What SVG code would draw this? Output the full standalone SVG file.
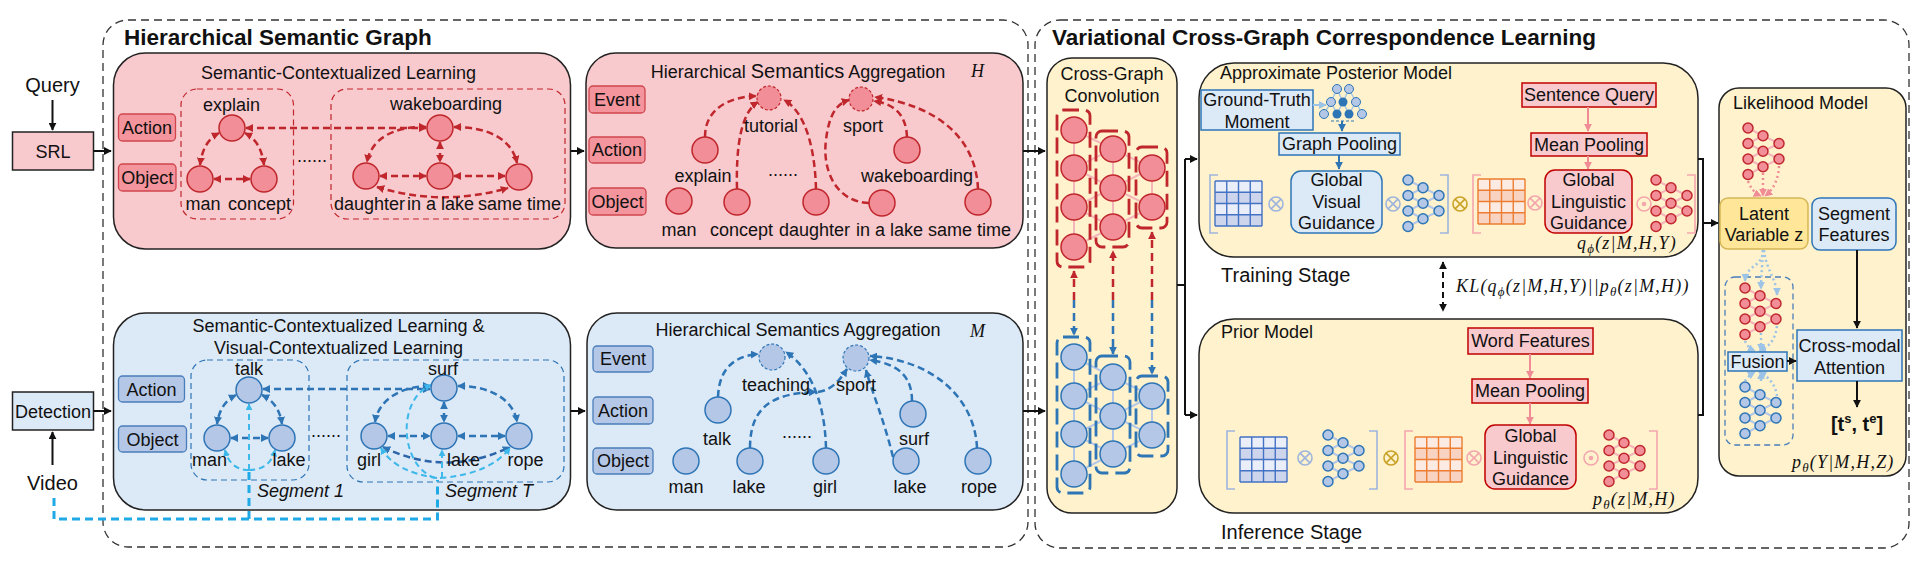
<svg xmlns="http://www.w3.org/2000/svg" xmlns:xlink="http://www.w3.org/1999/xlink" width="1926" height="561" viewBox="0 0 1926 561">
<style>
text{font-family:"Liberation Sans",Arial,sans-serif;fill:#111;font-size:18px}
.c{text-anchor:middle}
.s20{font-size:20px}
.b{font-weight:bold}
.ttl{font-weight:bold;font-size:22.5px}
.mt{font-family:"Liberation Serif","Times New Roman",serif;font-style:italic;letter-spacing:1.2px}
.outer{fill:none;stroke:#333;stroke-width:1.3;stroke-dasharray:8 5}
.pp{fill:#F8C9CD;stroke:#222;stroke-width:1.5}
.bp{fill:#DCE9F7;stroke:#222;stroke-width:1.5}
.yp{fill:#FFF2CC;stroke:#222;stroke-width:1.5}
.pl{fill:#F4949C;stroke:#D0464E;stroke-width:1.3}
.bl{fill:#B4C7E7;stroke:#4A7EBB;stroke-width:1.3}
.rn{fill:#F28E97;stroke:#C0272D;stroke-width:1.5}
.bn{fill:#B4C7E7;stroke:#2E75B6;stroke-width:1.5}
.evr{fill:#F28E97;stroke:#C0272D;stroke-width:1.2;stroke-dasharray:3 2}
.evb{fill:#B4C7E7;stroke:#2E75B6;stroke-width:1.2;stroke-dasharray:3 2}
.re{fill:none;stroke:#C0272D;stroke-width:2.5;stroke-dasharray:8 5}
.be{fill:none;stroke:#2E75B6;stroke-width:2.5;stroke-dasharray:8 5}
.rg{fill:none;stroke:#C0272D;stroke-width:1.2;stroke-dasharray:6 4}
.bg{fill:none;stroke:#2E75B6;stroke-width:1.2;stroke-dasharray:6 4}
.kc{fill:none;stroke:#111;stroke-width:2}
.cy{fill:none;stroke:#1FAAE5;stroke-width:3;stroke-dasharray:8 5}
.cl{fill:none;stroke:#3DB8EA;stroke-width:2;stroke-dasharray:6 4}
.lbx{fill:#DCE9F7;stroke:#2E75B6;stroke-width:1.5}
.pbx{fill:#F8C9CD;stroke:#C00000;stroke-width:1.5}
.rbr{fill:none;stroke:#C0272D;stroke-width:2.8;stroke-dasharray:16 7}
.bbr{fill:none;stroke:#2E75B6;stroke-width:2.8;stroke-dasharray:16 7}
.rl{fill:none;stroke:#F4B6BB;stroke-width:2}
.bll{fill:none;stroke:#B4C7E7;stroke-width:2}
.brB{fill:none;stroke:#9DB5DD;stroke-width:1.6}
.brP{fill:none;stroke:#F4A6AE;stroke-width:1.6}
.dotP{fill:none;stroke:#F08C96;stroke-width:2.5;stroke-dasharray:2 3}
.dotB{fill:none;stroke:#9DC3E6;stroke-width:2.5;stroke-dasharray:2 3}
</style>
<defs>
<marker id="aK" viewBox="0 0 10 10" refX="9" refY="5" markerWidth="8" markerHeight="8" markerUnits="userSpaceOnUse" orient="auto-start-reverse"><path d="M0,0L10,5L0,10z" fill="#111"/></marker>
<marker id="aR" viewBox="0 0 10 10" refX="9" refY="5" markerWidth="8" markerHeight="8" markerUnits="userSpaceOnUse" orient="auto-start-reverse"><path d="M0,0L10,5L0,10z" fill="#C0272D"/></marker>
<marker id="aB" viewBox="0 0 10 10" refX="9" refY="5" markerWidth="8" markerHeight="8" markerUnits="userSpaceOnUse" orient="auto-start-reverse"><path d="M0,0L10,5L0,10z" fill="#2E75B6"/></marker>
<marker id="aC" viewBox="0 0 10 10" refX="9" refY="5" markerWidth="7" markerHeight="7" markerUnits="userSpaceOnUse" orient="auto-start-reverse"><path d="M0,0L10,5L0,10z" fill="#3DB8EA"/></marker>
<marker id="aP" viewBox="0 0 10 10" refX="9" refY="5" markerWidth="8" markerHeight="8" markerUnits="userSpaceOnUse" orient="auto-start-reverse"><path d="M0,0L10,5L0,10z" fill="#F08C96"/></marker>
<marker id="aL" viewBox="0 0 10 10" refX="9" refY="5" markerWidth="8" markerHeight="8" markerUnits="userSpaceOnUse" orient="auto-start-reverse"><path d="M0,0L10,5L0,10z" fill="#9DC3E6"/></marker>
<g id="netR">
<path class="rl" d="M0,0L15,7.75M0,15.5L15,7.75M0,15.5L15,23.25M0,31L15,23.25M0,31L15,38.75M0,46.5L15,38.75M15,7.75L31,15.5M15,23.25L31,15.5M15,23.25L31,31M15,38.75L31,31"/>
<g class="rn"><circle cx="0" cy="0" r="5"/><circle cx="0" cy="15.5" r="5"/><circle cx="0" cy="31" r="5"/><circle cx="0" cy="46.5" r="5"/><circle cx="15" cy="7.75" r="5"/><circle cx="15" cy="23.25" r="5"/><circle cx="15" cy="38.75" r="5"/><circle cx="31" cy="15.5" r="5"/><circle cx="31" cy="31" r="5"/></g>
</g>
<g id="netB">
<path class="bll" d="M0,0L15,7.75M0,15.5L15,7.75M0,15.5L15,23.25M0,31L15,23.25M0,31L15,38.75M0,46.5L15,38.75M15,7.75L31,15.5M15,23.25L31,15.5M15,23.25L31,31M15,38.75L31,31"/>
<g class="bn"><circle cx="0" cy="0" r="5"/><circle cx="0" cy="15.5" r="5"/><circle cx="0" cy="31" r="5"/><circle cx="0" cy="46.5" r="5"/><circle cx="15" cy="7.75" r="5"/><circle cx="15" cy="23.25" r="5"/><circle cx="15" cy="38.75" r="5"/><circle cx="31" cy="15.5" r="5"/><circle cx="31" cy="31" r="5"/></g>
</g>
<g id="gridB">
<rect x="0" y="0" width="47" height="11.25" fill="#E9EEF8"/><rect x="0" y="11.25" width="47" height="11.25" fill="#CDD5EC"/><rect x="0" y="22.5" width="47" height="11.25" fill="#E9EEF8"/><rect x="0" y="33.75" width="47" height="11.25" fill="#CDD5EC"/>
<path d="M0,0H47M0,11.25H47M0,22.5H47M0,33.75H47M0,45H47M0,0V45M11.75,0V45M23.5,0V45M35.25,0V45M47,0V45" stroke="#4472C4" stroke-width="1.4" fill="none"/>
</g>
<g id="gridO">
<rect x="0" y="0" width="47" height="11.25" fill="#FCEBE3"/><rect x="0" y="11.25" width="47" height="11.25" fill="#F8D3C2"/><rect x="0" y="22.5" width="47" height="11.25" fill="#FCEBE3"/><rect x="0" y="33.75" width="47" height="11.25" fill="#F8D3C2"/>
<path d="M0,0H47M0,11.25H47M0,22.5H47M0,33.75H47M0,45H47M0,0V45M11.75,0V45M23.5,0V45M35.25,0V45M47,0V45" stroke="#ED7D31" stroke-width="1.4" fill="none"/>
</g>
<g id="otimes" fill="none" stroke-width="1.6"><circle r="7"/><path d="M-4.9,-4.9L4.9,4.9M4.9,-4.9L-4.9,4.9"/></g>
<g id="odot" fill="none" stroke-width="1.6"><circle r="7"/><circle r="1.5" fill="#F4A6AE"/></g>
</defs>

<rect width="1926" height="561" fill="#fff"/>

<!-- outer dashed frames -->
<g id="frame-hsg">
<rect class="outer" x="103" y="20" width="925" height="527" rx="25"/>
<text class="ttl" x="124" y="45">Hierarchical Semantic Graph</text>
</g>
<g id="frame-vcgcl">
<rect class="outer" x="1035" y="20" width="874" height="528" rx="25"/>
<text class="ttl" x="1052" y="45">Variational Cross-Graph Correspondence Learning</text>
</g>

<!-- inputs -->
<g id="query"><text class="c s20" x="52.5" y="92">Query</text></g>
<g id="srl"><rect x="12.5" y="132" width="81" height="38" fill="#F8C9CD" stroke="#222" stroke-width="1.5"/><text class="c" x="53" y="158" font-size="17">SRL</text></g>
<g id="detection"><rect x="12.5" y="392" width="81" height="38" fill="#DCE9F7" stroke="#222" stroke-width="1.5"/><text class="c" x="53" y="418">Detection</text></g>
<g id="video"><text class="c s20" x="52.5" y="490">Video</text></g>

<!-- Pink semantic-contextualized learning -->
<g id="scl-query">
<rect class="pp" x="113.5" y="53" width="457" height="196" rx="32"/>
<text class="c" x="338.5" y="79">Semantic-Contextualized Learning</text>
<rect class="pl" x="118.5" y="114" width="57" height="27" rx="4"/><text class="c" x="147" y="134">Action</text>
<rect class="pl" x="118.5" y="164" width="57.5" height="27" rx="4"/><text class="c" x="147.2" y="184">Object</text>
<rect class="rg" x="181" y="89" width="112.5" height="130" rx="16"/>
<rect class="rg" x="331" y="89" width="234" height="130" rx="16"/>
<g fill="none" stroke="#C0272D" stroke-width="2.5" stroke-dasharray="7 4">
<path d="M246 128H426" marker-start="url(#aR)" marker-end="url(#aR)"/>
<path d="M219 133Q203 141 200 165" marker-start="url(#aR)" marker-end="url(#aR)"/>
<path d="M245 133Q261 141 264 165" marker-start="url(#aR)" marker-end="url(#aR)"/>
<path d="M214 179H250" marker-start="url(#aR)" marker-end="url(#aR)"/>
<path d="M426 127C392 126 371 140 367 162" marker-start="url(#aR)" marker-end="url(#aR)"/>
<path d="M454 127C490 127 512 140 517 163" marker-start="url(#aR)" marker-end="url(#aR)"/>
<path d="M440 142V162" marker-start="url(#aR)" marker-end="url(#aR)"/>
<path d="M380 176H426" marker-start="url(#aR)" marker-end="url(#aR)"/>
<path d="M454 176H505" marker-start="url(#aR)" marker-end="url(#aR)"/>
<path d="M377 187Q442 207 508 188" marker-start="url(#aR)" marker-end="url(#aR)"/>
</g>
<g class="rn"><circle cx="232" cy="128" r="13"/><circle cx="200" cy="179" r="13"/><circle cx="264" cy="179" r="13"/><circle cx="440" cy="128" r="13"/><circle cx="366" cy="176" r="13"/><circle cx="440" cy="176" r="13"/><circle cx="519" cy="177" r="13"/></g>
<text class="c" x="231.5" y="111">explain</text><text class="c" x="446" y="110">wakeboarding</text><text class="c" x="203" y="210">man</text><text class="c" x="259.5" y="210">concept</text><text x="334" y="210">daughter</text><text x="407" y="210">in a lake</text><text x="478" y="210">same time</text><text class="c" x="312" y="162">......</text>
</g>

<!-- Pink hierarchical semantics aggregation H -->
<g id="hsa-query">
<rect class="pp" x="586" y="53" width="437" height="195" rx="30"/>
<text class="c" x="798" y="78">Hierarchical <tspan font-size="20">Semantics</tspan> Aggregation</text>
<text class="mt" x="971" y="77">H</text>
<rect class="pl" x="589" y="86" width="56" height="27" rx="4"/><text class="c" x="617" y="106">Event</text>
<rect class="pl" x="589" y="137" width="56" height="26" rx="4"/><text class="c" x="617" y="156">Action</text>
<rect class="pl" x="589" y="188" width="57" height="27" rx="4"/><text class="c" x="617.5" y="208">Object</text>
<g fill="none" stroke="#C0272D" stroke-width="2.5" stroke-dasharray="7 4" marker-end="url(#aR)">
<path d="M705 137C705 108 730 97 756 96"/>
<path d="M737 189C736 150 740 113 758 102"/>
<path d="M816 189C815 150 806 112 784 100"/>
<path d="M869 203C836 202 822 170 826 140C829 115 836 104 849 100"/>
<path d="M907 137C906 114 894 104 874 101"/>
<path d="M978 189C976 140 940 106 875 97"/>
</g>
<circle class="evr" cx="769" cy="98" r="12"/><circle class="evr" cx="861" cy="99" r="12"/>
<g class="rn"><circle cx="705" cy="150" r="13"/><circle cx="907" cy="150" r="13"/><circle cx="679" cy="201" r="13"/><circle cx="737" cy="202" r="13"/><circle cx="816" cy="202" r="13"/><circle cx="882" cy="203" r="13"/><circle cx="978" cy="202" r="13"/></g>
<text class="c" x="771" y="132">tutorial</text><text class="c" x="863" y="132">sport</text>
<text class="c" x="703" y="182">explain</text><text class="c" x="917" y="182">wakeboarding</text>
<text class="c" x="783" y="176">......</text>
<text class="c" x="679" y="236">man</text><text x="710" y="236">concept</text><text x="779" y="236">daughter</text><text x="856" y="236">in a lake</text><text x="928" y="236">same time</text>
</g>

<!-- Blue semantic & visual contextualized learning -->
<g id="scl-video">
<rect class="bp" x="113.5" y="313" width="457" height="197" rx="32"/>
<text class="c" x="338.5" y="332">Semantic-Contextualized Learning &amp;</text>
<text class="c" x="338.5" y="354">Visual-Contextualized Learning</text>
<rect class="bl" x="118.5" y="376" width="66" height="26" rx="4"/><text class="c" x="151.5" y="395.5">Action</text>
<rect class="bl" x="118.5" y="426" width="68" height="26" rx="4"/><text class="c" x="152.5" y="445.5">Object</text>
<rect class="bg" x="191" y="360" width="118" height="120" rx="16"/>
<rect class="bg" x="347" y="360" width="217" height="122" rx="16"/>
<g fill="none" stroke="#2E75B6" stroke-width="2.5" stroke-dasharray="7 4">
<path d="M263 389H430" marker-start="url(#aB)" marker-end="url(#aB)"/>
<path d="M236 395Q220 403 217 424" marker-start="url(#aB)" marker-end="url(#aB)"/>
<path d="M262 395Q279 403 282 424" marker-start="url(#aB)" marker-end="url(#aB)"/>
<path d="M231 438H268" marker-start="url(#aB)" marker-end="url(#aB)"/>
<path d="M430 386C398 386 378 402 375 422" marker-start="url(#aB)" marker-end="url(#aB)"/>
<path d="M458 386C494 386 514 402 517 422" marker-start="url(#aB)" marker-end="url(#aB)"/>
<path d="M444 402V422" marker-start="url(#aB)" marker-end="url(#aB)"/>
<path d="M388 436H430" marker-start="url(#aB)" marker-end="url(#aB)"/>
<path d="M458 436H505" marker-start="url(#aB)" marker-end="url(#aB)"/>
<path d="M383 447Q446 478 510 447" stroke="#2B64A8" marker-start="url(#aB)" marker-end="url(#aB)"/>
</g>
<g class="cl">
<path d="M249 470V404" marker-end="url(#aC)"/>
<path d="M249 470Q230 470 225 450" marker-end="url(#aC)"/>
<path d="M249 470Q270 470 275 450" marker-end="url(#aC)"/>
<path d="M437 478Q395 472 381 448" marker-end="url(#aC)"/>
<path d="M442 478V450" marker-end="url(#aC)"/>
<path d="M440 478Q490 474 510 448" marker-end="url(#aC)"/>
<path d="M435 478C400 466 396 400 431 385" marker-end="url(#aC)"/>
</g>
<g class="bn"><circle cx="249" cy="390" r="13"/><circle cx="217" cy="438" r="13"/><circle cx="282" cy="438" r="13"/><circle cx="444" cy="388" r="13"/><circle cx="374" cy="436" r="13"/><circle cx="444" cy="436" r="13"/><circle cx="519" cy="436" r="13"/></g>
<text class="c" x="249" y="375">talk</text><text class="c" x="209.5" y="466">man</text><text class="c" x="289" y="466">lake</text><text class="c" x="443" y="375">surf</text><text class="c" x="369" y="466">girl</text><text class="c" x="463.5" y="466">lake</text><text class="c" x="525.5" y="466">rope</text><text class="c" x="326" y="437">......</text>
<text x="257" y="497" font-style="italic">Segment 1</text><text x="445" y="497" font-style="italic">Segment T</text>
</g>

<!-- Blue hierarchical semantics aggregation M -->
<g id="hsa-video">
<rect class="bp" x="587" y="313" width="436" height="197" rx="30"/>
<text class="c" x="798" y="336">Hierarchical Semantics Aggregation</text>
<text class="mt" x="970" y="337">M</text>
<rect class="bl" x="593" y="346" width="60" height="26" rx="4"/><text class="c" x="623" y="365">Event</text>
<rect class="bl" x="593" y="397" width="60" height="27" rx="4"/><text class="c" x="623" y="417">Action</text>
<rect class="bl" x="593" y="448" width="60" height="26" rx="4"/><text class="c" x="623" y="467">Object</text>
<g fill="none" stroke="#2E75B6" stroke-width="2.5" stroke-dasharray="7 4" marker-end="url(#aB)">
<path d="M718 397C719 368 735 356 758 354"/>
<path d="M826 448C825 410 815 372 786 352"/>
<path d="M750 448C750 405 775 393 816 392"/>
<path d="M818 392C832 390 840 380 847 369"/>
<path d="M893 457C884 420 872 392 866 370"/>
<path d="M912 401C912 378 900 364 870 360"/>
<path d="M977 448C975 400 935 360 870 356"/>
</g>
<circle class="evb" cx="772" cy="357" r="13"/><circle class="evb" cx="856" cy="358" r="13"/>
<g class="bn"><circle cx="718" cy="410" r="13"/><circle cx="913" cy="414" r="13"/><circle cx="686" cy="461" r="13"/><circle cx="750" cy="461" r="13"/><circle cx="826" cy="461" r="13"/><circle cx="906" cy="461" r="13"/><circle cx="978" cy="461" r="13"/></g>
<text class="c" x="776" y="391">teaching</text><text class="c" x="856" y="391">sport</text>
<text class="c" x="717" y="445">talk</text><text class="c" x="914" y="445">surf</text>
<text class="c" x="797" y="438">......</text>
<text class="c" x="686" y="493">man</text><text class="c" x="749" y="493">lake</text><text class="c" x="825" y="493">girl</text><text class="c" x="910" y="493">lake</text><text class="c" x="979" y="493">rope</text>
</g>

<!-- Cross-Graph Convolution -->
<g id="cross-graph-conv">
<rect class="yp" x="1047" y="58" width="130" height="455" rx="25"/>
<text class="c" x="1112" y="80">Cross-Graph</text>
<text class="c" x="1112" y="102">Convolution</text>
<path class="rl" d="M1074 130V247M1113 149V227M1152 168V207M1074 130L1113 149L1074 168L1113 188L1074 207L1113 227L1074 247M1113 149L1152 168L1113 188L1152 207L1113 227"/>
<g class="rn"><circle cx="1074" cy="130" r="13"/><circle cx="1074" cy="168" r="13"/><circle cx="1074" cy="207" r="13"/><circle cx="1074" cy="247" r="13"/><circle cx="1113" cy="149" r="13"/><circle cx="1113" cy="188" r="13"/><circle cx="1113" cy="227" r="13"/><circle cx="1152" cy="168" r="13"/><circle cx="1152" cy="207" r="13"/></g>
<rect class="rbr" x="1057" y="110" width="33" height="157" rx="6"/>
<rect class="rbr" x="1096" y="131" width="33" height="116" rx="6"/>
<rect class="rbr" x="1136" y="147" width="31" height="81" rx="6"/>
<path class="bll" d="M1074 357V474M1113 377V454M1152 396V435M1074 357L1113 377L1074 396L1113 416L1074 434L1113 454L1074 474M1113 377L1152 396L1113 416L1152 435L1113 454"/>
<g class="bn"><circle cx="1074" cy="357" r="13"/><circle cx="1074" cy="396" r="13"/><circle cx="1074" cy="434" r="13"/><circle cx="1074" cy="474" r="13"/><circle cx="1113" cy="377" r="13"/><circle cx="1113" cy="416" r="13"/><circle cx="1113" cy="454" r="13"/><circle cx="1152" cy="396" r="13"/><circle cx="1152" cy="435" r="13"/></g>
<rect class="bbr" x="1057" y="337" width="33" height="156" rx="6"/>
<rect class="bbr" x="1096" y="356" width="34" height="117" rx="6"/>
<rect class="bbr" x="1136" y="376" width="32" height="80" rx="6"/>
<g class="re" stroke-width="2.2" marker-end="url(#aR)"><path d="M1074 300V271"/><path d="M1113 300V251"/><path d="M1152 300V232"/></g>
<g class="be" stroke-width="2.2" marker-end="url(#aB)"><path d="M1074 300V335"/><path d="M1113 300V354"/><path d="M1152 300V374"/></g>
</g>

<!-- Approximate Posterior Model -->
<g id="posterior-model">
<rect class="yp" x="1199" y="63" width="499" height="194" rx="35"/>
<text x="1220" y="79">Approximate Posterior Model</text>
<rect class="lbx" x="1201" y="90" width="112" height="40"/>
<text class="c" x="1257" y="106">Ground-Truth</text><text class="c" x="1257" y="128">Moment</text>
<path d="M1313 105H1326" stroke="#9DC3E6" stroke-width="2" marker-end="url(#aL)"/>
<path d="M1337 89L1331 102M1337 89L1343 102M1349 89L1343 102M1349 89L1356 102M1331 102L1324 114M1331 102L1337 114M1343 102L1337 114M1343 102L1349 114M1356 102L1349 114M1356 102L1362 114" stroke="#9DC3E6" stroke-width="1.3"/>
<g fill="#B4C7E7" stroke="#2E75B6" stroke-width="1"><circle cx="1337" cy="89" r="4.5"/><circle cx="1349" cy="89" r="4.5"/><circle cx="1331" cy="102" r="4.5"/><circle cx="1356" cy="102" r="4.5"/><circle cx="1324" cy="114" r="4.5"/><circle cx="1362" cy="114" r="4.5"/></g>
<g fill="#2E75B6"><circle cx="1343" cy="102" r="4.5"/><circle cx="1337" cy="114" r="4.5"/><circle cx="1349" cy="114" r="4.5"/></g>
<path d="M1331 121H1354" stroke="#2E75B6" stroke-width="1.2" stroke-dasharray="3 2"/>
<path d="M1342 121V131" stroke="#2E75B6" stroke-width="2" marker-end="url(#aB)"/>
<rect class="lbx" x="1279" y="133" width="121" height="22"/>
<text class="c" x="1339.5" y="150">Graph Pooling</text>
<path d="M1339 155V169" stroke="#2E75B6" stroke-width="2" marker-end="url(#aB)"/>
<path class="brB" d="M1218 175H1210V233H1218"/>
<use href="#gridB" x="1215" y="181"/>
<use href="#otimes" x="1276" y="204" stroke="#9DB5DD"/>
<rect class="lbx" x="1291" y="171" width="91" height="62" rx="10"/>
<text class="c" x="1336.5" y="186">Global</text><text class="c" x="1336.5" y="208">Visual</text><text class="c" x="1336.5" y="229">Guidance</text>
<use href="#otimes" x="1393" y="204" stroke="#9DB5DD"/>
<use href="#netB" x="1408" y="180"/>
<path class="brB" d="M1440 175H1448V233H1440"/>
<use href="#otimes" x="1460" y="204" stroke="#C9A227"/>
<path class="brP" d="M1481 175H1473V233H1481"/>
<use href="#gridO" x="1478" y="179"/>
<use href="#otimes" x="1535" y="203" stroke="#F4A6AE"/>
<rect class="pbx" x="1522" y="83" width="134" height="24"/>
<text class="c" x="1589" y="101">Sentence Query</text>
<path d="M1588 107V131" stroke="#F08C96" stroke-width="2" marker-end="url(#aP)"/>
<rect class="pbx" x="1531" y="133" width="116" height="23"/>
<text class="c" x="1589" y="151">Mean Pooling</text>
<path d="M1588 156V169" stroke="#F08C96" stroke-width="2" marker-end="url(#aP)"/>
<rect class="pbx" x="1545" y="170" width="87" height="63" rx="10"/>
<text class="c" x="1588.5" y="186">Global</text><text class="c" x="1588.5" y="208">Linguistic</text><text class="c" x="1588.5" y="229">Guidance</text>
<use href="#odot" x="1644" y="204" stroke="#F4A6AE"/>
<use href="#netR" x="1656" y="180"/>
<path class="brP" d="M1687 175H1695V233H1687"/>
<text class="mt" x="1577" y="249">q<tspan dy="4" font-size="13">ϕ</tspan><tspan dy="-4">(z|M,H,Y)</tspan></text>
<text class="s20" x="1221" y="282">Training Stage</text>
</g>

<!-- Prior Model -->
<g id="prior-model">
<rect class="yp" x="1199" y="319" width="499" height="194" rx="35"/>
<text x="1221" y="338">Prior Model</text>
<rect class="pbx" x="1468" y="328" width="125" height="26"/>
<text class="c" x="1530.5" y="347">Word Features</text>
<path d="M1530 354V378" stroke="#F08C96" stroke-width="2" marker-end="url(#aP)"/>
<rect class="pbx" x="1472" y="379" width="116" height="24"/>
<text class="c" x="1530" y="397">Mean Pooling</text>
<path d="M1530 403V424" stroke="#F08C96" stroke-width="2" marker-end="url(#aP)"/>
<path class="brB" d="M1235 431H1227V489H1235"/>
<use href="#gridB" x="1240" y="437"/>
<use href="#otimes" x="1305" y="458" stroke="#9DB5DD"/>
<use href="#netB" x="1328" y="435"/>
<path class="brB" d="M1369 431H1377V489H1369"/>
<use href="#otimes" x="1391" y="458" stroke="#C9A227"/>
<path class="brP" d="M1413 431H1405V489H1413"/>
<use href="#gridO" x="1415" y="437"/>
<use href="#otimes" x="1474" y="458" stroke="#F4A6AE"/>
<rect class="pbx" x="1485" y="425" width="91" height="64" rx="10"/>
<text class="c" x="1530.5" y="442">Global</text><text class="c" x="1530.5" y="464">Linguistic</text><text class="c" x="1530.5" y="485">Guidance</text>
<use href="#odot" x="1591" y="458" stroke="#F4A6AE"/>
<use href="#netR" x="1609" y="435"/>
<path class="brP" d="M1649 431H1657V489H1649"/>
<text class="mt" x="1593" y="505">p<tspan dy="4" font-size="13">θ</tspan><tspan dy="-4">(z|M,H)</tspan></text>
<text class="s20" x="1221" y="539">Inference Stage</text>
</g>

<!-- KL divergence -->
<g id="kl">
<path d="M1443 262V311" stroke="#111" stroke-width="2" stroke-dasharray="6 4" marker-start="url(#aK)" marker-end="url(#aK)"/>
<text class="mt" x="1456" y="292">KL(q<tspan dy="4" font-size="13">ϕ</tspan><tspan dy="-4">(z|M,H,Y)||p</tspan><tspan dy="4" font-size="13">θ</tspan><tspan dy="-4">(z|M,H))</tspan></text>
</g>

<!-- Likelihood Model -->
<g id="likelihood-model">
<rect class="yp" x="1719" y="88" width="187" height="388" rx="20"/>
<text x="1733" y="109">Likelihood Model</text>
<use href="#netR" x="1748" y="128"/>
<path class="dotP" d="M1748 181Q1752 192 1761 196" marker-end="url(#aP)"/>
<path class="dotP" d="M1763 173V196" marker-end="url(#aP)"/>
<path class="dotP" d="M1779 166Q1778 186 1765 196" marker-end="url(#aP)"/>
<rect x="1720" y="198" width="88" height="51" rx="8" fill="#FFE699" stroke="#D6B656" stroke-width="1.5"/>
<text class="c" x="1764" y="220">Latent</text><text class="c" x="1764" y="241">Variable z</text>
<rect class="lbx" x="1812" y="198" width="84" height="52" rx="8"/>
<text class="c" x="1854" y="220">Segment</text><text class="c" x="1854" y="241">Features</text>
<rect x="1725" y="277" width="68" height="168" rx="10" fill="none" stroke="#4A7EBB" stroke-width="1.3" stroke-dasharray="6 4"/>
<path class="dotB" d="M1763 250C1763 268 1746 264 1745 281" marker-end="url(#aL)"/>
<path class="dotB" d="M1763 250C1762 270 1761 278 1761 289" marker-end="url(#aL)"/>
<path class="dotB" d="M1764 250C1766 270 1777 280 1777 295" marker-end="url(#aL)"/>
<use href="#netR" x="1745" y="288"/>
<use href="#netB" x="1745" y="387"/>
<path class="dotB" d="M1745 341Q1748 348 1755 351" marker-end="url(#aL)"/>
<path class="dotB" d="M1761 333V351" marker-end="url(#aL)"/>
<path class="dotB" d="M1777 326Q1775 345 1759 351" marker-end="url(#aL)"/>
<path class="dotB" d="M1745 381Q1748 376 1755 372" marker-end="url(#aL)"/>
<path class="dotB" d="M1761 381V372" marker-end="url(#aL)"/>
<path class="dotB" d="M1777 396Q1775 380 1759 372" marker-end="url(#aL)"/>
<rect class="lbx" x="1728" y="352" width="59" height="19"/>
<text class="c" x="1757.5" y="368">Fusion</text>
<rect class="lbx" x="1797" y="330" width="105" height="51"/>
<text class="c" x="1849.5" y="352">Cross-modal</text><text class="c" x="1849.5" y="374">Attention</text>
<text class="c b s20" x="1857" y="431">[t<tspan dy="-8" font-size="13">s</tspan><tspan dy="8">, t</tspan><tspan dy="-8" font-size="13">e</tspan><tspan dy="8">]</tspan></text>
<text class="mt" x="1792" y="468">p<tspan dy="4" font-size="13">θ</tspan><tspan dy="-4">(Y|M,H,Z)</tspan></text>
</g>

<!-- connectors -->
<g id="connectors">
<path class="kc" d="M52.5 100V130" marker-end="url(#aK)"/>
<path class="kc" d="M52.5 465V432" marker-end="url(#aK)"/>
<path class="kc" d="M93.5 151H111" marker-end="url(#aK)"/>
<path class="kc" d="M93.5 411H111" marker-end="url(#aK)"/>
<path class="kc" d="M570.5 151H584" marker-end="url(#aK)"/>
<path class="kc" d="M570.5 411H585" marker-end="url(#aK)"/>
<path class="kc" d="M1023 151H1045" marker-end="url(#aK)"/>
<path class="kc" d="M1023 411H1045" marker-end="url(#aK)"/>
<path class="kc" d="M1177 285H1185M1185 159V415"/>
<path class="kc" d="M1185 159H1197" marker-end="url(#aK)"/>
<path class="kc" d="M1185 415H1197" marker-end="url(#aK)"/>
<path class="kc" d="M1698 159H1703V415H1698"/>
<path class="kc" d="M1703 223H1718" marker-end="url(#aK)"/>
<path class="kc" d="M1857 250V328" marker-end="url(#aK)"/>
<path class="kc" d="M1787 361H1796" stroke-width="1.6" marker-end="url(#aK)"/>
<path class="kc" d="M1857 381V407" marker-end="url(#aK)"/>
<path class="cy" d="M54 498V519H437.5V480"/>
<path class="cy" d="M249 519V472"/>
</g>
</svg>
